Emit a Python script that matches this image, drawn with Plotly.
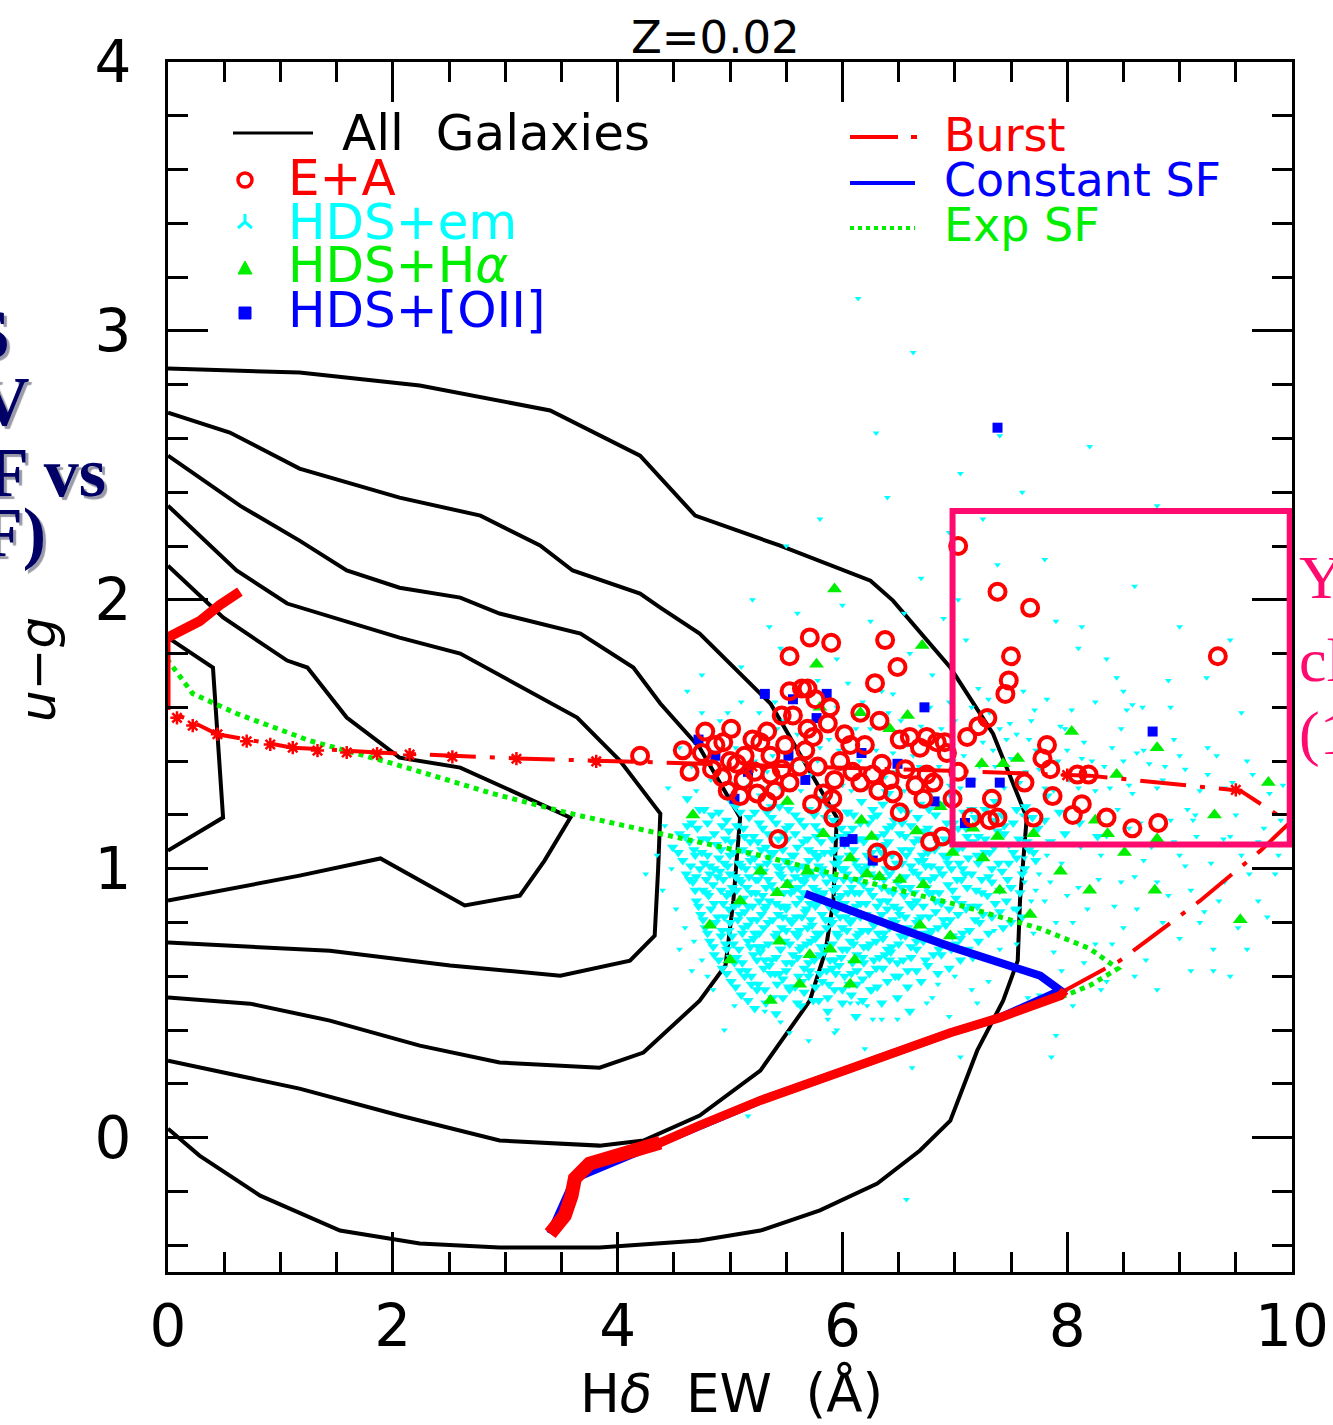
import plotly.graph_objects as go

# ---------------- figure geometry ----------------
W, H = 1333, 1425
ML, MR, MT, MB = 168, 41, 62, 153
PW, PH = W - ML - MR, H - MT - MB


def pxx(x):
    return (x - ML) / PW


def pxy(y):
    return (H - MB - y) / PH


RED = "#ff0000"
CYAN = "#00ffff"
GREEN = "#00ee00"
BLUE = "#0000ff"
PINK = "#ff0a6e"
NAVY = "#000066"
FONT = "DejaVu Sans"

# ---------------- axes ----------------
x_range = [0, 10]
y_range = [-0.5, 4]
x_ticks = [0, 2, 4, 6, 8, 10]
y_ticks = [0, 1, 2, 3, 4]

# ---------------- "All Galaxies" density contours ----------------
c1_hd = [0.00, 0.40, 0.49, 0.00]
c1_ug = [1.859, 1.748, 1.190, 1.067]

c2_hd = [0.00, 0.49, 1.06, 1.24, 1.59, 2.06, 2.60, 3.58, 3.35, 3.13, 2.64, 1.89, 1.17, 0.00]
c2_ug = [2.127, 1.934, 1.774, 1.748, 1.562, 1.413, 1.376, 1.190, 1.030, 0.900, 0.863, 1.038, 0.974, 0.881]

c3_hd = [0.00, 0.61, 1.06, 2.06, 2.60, 3.04, 3.64, 4.02, 4.38, 4.36, 4.33, 4.11, 3.49, 2.51, 1.44, 0.00]
c3_ug = [2.350, 2.109, 1.986, 1.859, 1.800, 1.700, 1.562, 1.402, 1.205, 0.993, 0.751, 0.658, 0.602, 0.640, 0.695, 0.725]

c4_hd = [0.00, 0.64, 1.17, 1.59, 2.06, 2.60, 2.95, 3.67, 4.14, 4.38, 4.73, 5.09, 5.03, 4.96, 4.73, 4.23, 3.84,
         2.95, 2.24, 1.44, 0.73, 0.00]
c4_ug = [2.536, 2.350, 2.220, 2.109, 2.045, 2.008, 1.949, 1.874, 1.748, 1.614, 1.450, 1.190, 0.881, 0.640, 0.509,
         0.316, 0.260, 0.279, 0.342, 0.435, 0.498, 0.521]

c5_hd = [0.00, 0.55, 1.17, 2.06, 2.78, 3.31, 3.60, 4.20, 4.38, 4.73, 5.36, 5.95, 5.92, 5.85, 5.71, 5.27, 4.73,
         4.23, 3.84, 2.95, 2.06, 1.17, 0.00]
c5_ug = [2.696, 2.622, 2.488, 2.380, 2.313, 2.202, 2.109, 2.023, 1.971, 1.874, 1.614, 1.190, 0.881, 0.695, 0.509,
         0.249, 0.082, -0.011, -0.030, -0.011, 0.082, 0.182, 0.286]

c6_hd = [0.00, 1.17, 2.24, 3.40, 4.20, 4.69, 5.44, 6.25, 6.45, 6.96, 7.34, 7.64, 7.58, 7.56, 7.43, 7.20, 6.96,
         6.69, 6.31, 5.80, 5.27, 4.73, 3.84, 2.95, 2.24, 1.53, 0.82, 0.28, 0.00]
c6_ug = [2.860, 2.845, 2.797, 2.704, 2.536, 2.313, 2.202, 2.071, 1.997, 1.748, 1.502, 1.190, 0.881, 0.658, 0.509,
         0.324, 0.063, -0.048, -0.171, -0.271, -0.346, -0.383, -0.409, -0.409, -0.394, -0.346, -0.216, -0.067, 0.033]

contours = [(c1_hd, c1_ug), (c2_hd, c2_ug), (c3_hd, c3_ug), (c4_hd, c4_ug), (c5_hd, c5_ug), (c6_hd, c6_ug)]

# ---------------- model tracks ----------------
burst_hd = [3.40, 3.53, 3.59, 3.62, 3.75, 4.02, 4.38, 4.73, 5.27, 6.07, 6.96, 7.40, 7.94, 7.98, 8.47, 9.18, 9.72,
            9.98, 9.54, 8.20, 6.87, 4.38, 3.10, 2.06, 1.11, 0.44, 0.00, 0.00, 0.11, 0.28, 0.46, 0.64]
burst_ug = [-0.357, -0.290, -0.216, -0.152, -0.097, -0.060, -0.019, 0.045, 0.138, 0.257, 0.390, 0.446, 0.528, 0.547,
            0.658, 0.880, 1.067, 1.171, 1.290, 1.346, 1.365, 1.395, 1.410, 1.428, 1.450, 1.500, 1.590, 1.860, 1.885,
            1.920, 1.980, 2.030]
burst_step_hd = [0.08, 0.22, 0.44, 0.70, 0.91, 1.11, 1.33, 1.59, 1.86, 2.15, 2.53, 3.10, 3.81, 5.20, 8.00, 9.50]
burst_step_ug = [1.561, 1.532, 1.500, 1.474, 1.462, 1.450, 1.439, 1.432, 1.428, 1.424, 1.416, 1.409, 1.399, 1.380,
                 1.348, 1.293]

const_hd = [3.40, 3.62, 4.38, 5.27, 6.07, 6.96, 7.40, 7.94, 7.76, 7.40, 6.96, 6.51, 6.07, 5.67]
const_ug = [-0.357, -0.152, -0.019, 0.138, 0.257, 0.390, 0.446, 0.547, 0.602, 0.650, 0.710, 0.777, 0.844, 0.907]

exp_hd = [3.40, 3.62, 4.38, 5.27, 6.07, 6.96, 7.40, 7.98, 8.20, 8.45, 8.20, 7.76, 7.05, 6.16, 5.27, 4.38, 3.58,
          2.89, 2.00, 1.26, 0.61, 0.22, 0.00]
exp_ug = [-0.357, -0.152, -0.019, 0.138, 0.257, 0.390, 0.446, 0.528, 0.565, 0.628, 0.703, 0.777, 0.863, 0.956,
          1.049, 1.130, 1.205, 1.279, 1.391, 1.476, 1.577, 1.651, 1.774]

# ---------------- galaxy samples ----------------
ea_points = [
    (7.03, 2.20), (7.38, 2.03), (7.67, 1.97), (7.50, 1.79), (7.48, 1.70), (7.45, 1.65), (7.29, 1.56), (7.21, 1.53),
    (7.11, 1.49), (6.91, 1.47), (6.93, 1.43), (7.82, 1.46), (7.78, 1.41), (7.85, 1.37), (8.09, 1.35), (8.19, 1.35),
    (7.62, 1.32), (7.87, 1.27), (8.13, 1.24), (8.05, 1.20), (8.35, 1.19), (8.58, 1.15), (8.81, 1.17), (7.33, 1.26),
    (7.15, 1.19), (7.31, 1.18), (7.38, 1.19), (7.70, 1.19), (7.03, 1.36), (6.89, 1.12), (9.34, 1.79), (5.71, 1.86),
    (5.90, 1.84), (6.38, 1.85), (5.53, 1.79), (6.49, 1.75), (6.29, 1.69), (5.53, 1.66), (5.64, 1.67), (5.69, 1.67),
    (5.46, 1.57), (5.56, 1.57), (5.01, 1.52), (4.58, 1.44), (4.75, 1.43), (4.94, 1.47), (5.20, 1.48), (5.27, 1.47),
    (5.69, 1.52), (5.74, 1.49), (5.87, 1.54), (6.02, 1.50), (6.07, 1.46), (6.60, 1.49), (6.75, 1.49), (6.69, 1.45),
    (6.84, 1.47), (4.93, 1.34), (5.06, 1.39), (5.12, 1.33), (5.24, 1.28), (5.33, 1.25), (5.36, 1.35), (5.46, 1.37),
    (5.53, 1.32), (5.62, 1.38), (5.73, 1.24), (5.83, 1.28), (5.91, 1.26), (5.92, 1.19), (5.93, 1.33), (6.09, 1.36),
    (6.16, 1.32), (6.27, 1.35), (6.35, 1.39), (6.42, 1.33), (6.45, 1.28), (6.51, 1.21), (6.72, 1.26), (6.75, 1.35),
    (6.81, 1.32), (6.98, 1.26), (5.43, 1.11), (6.31, 1.06), (6.45, 1.03), (6.78, 1.10), (4.20, 1.42), (4.78, 1.51),
    (4.87, 1.46), (5.00, 1.40), (5.13, 1.42), (4.84, 1.37), (4.98, 1.29), (5.36, 1.42), (5.49, 1.46), (5.22, 1.36),
    (5.09, 1.27), (5.33, 1.51), (5.40, 1.29), (4.64, 1.36), (5.67, 1.44), (5.78, 1.38), (5.98, 1.40), (6.20, 1.46),
    (6.32, 1.29), (6.56, 1.37), (6.65, 1.31), (5.89, 1.60), (5.76, 1.63), (6.16, 1.58), (6.33, 1.55), (6.51, 1.48),
]

ha_points = [
    (6.71, 1.83), (5.77, 1.76), (5.80, 1.60), (6.16, 1.58), (6.58, 1.57), (6.42, 1.52), (4.67, 1.20), (5.83, 1.13),
    (6.17, 1.18), (6.26, 1.12), (6.66, 1.14), (6.98, 1.06), (7.25, 1.04), (6.87, 1.23), (5.51, 1.25), (6.07, 1.04),
    (5.69, 0.99), (6.22, 0.98), (6.33, 0.97), (6.72, 0.94), (5.42, 0.91), (5.51, 0.94), (7.56, 1.41), (7.24, 1.39),
    (7.43, 1.39), (7.70, 1.13), (7.16, 1.15), (7.38, 1.12), (8.04, 1.51), (8.80, 1.45), (8.44, 1.35), (9.79, 1.32),
    (9.31, 1.20), (8.36, 1.13), (8.51, 1.06), (8.80, 1.11), (5.93, 2.04), (9.54, 0.81), (8.20, 0.92), (5.71, 0.68),
    (5.62, 0.57), (5.09, 0.88), (5.27, 0.99), (5.89, 0.70), (6.11, 0.66), (6.51, 0.96), (6.69, 0.79), (6.96, 0.75),
    (7.40, 0.92), (7.67, 0.83), (7.94, 0.99), (4.82, 0.79), (5.00, 0.66), (6.07, 0.57), (5.44, 0.73), (5.36, 0.51),
    (8.78, 0.92), (8.25, 1.18),
]

oii_points = [
    (7.38, 2.64), (8.76, 1.51), (5.31, 1.65), (5.86, 1.65), (6.73, 1.60), (4.72, 1.48), (4.87, 1.42), (5.56, 1.63),
    (5.77, 1.56), (5.04, 1.26), (6.49, 1.39), (6.17, 1.43), (6.82, 1.25), (7.09, 1.17), (7.14, 1.32), (7.40, 1.32),
    (6.27, 1.03), (6.09, 1.11), (5.52, 1.42), (5.16, 1.36), (5.67, 1.33), (6.02, 1.10),
]

# HDS+em galaxies: main clump
em_core_a = [
    (4.62, 1.26), (4.77, 1.22), (5.01, 1.25), (5.09, 1.21), (5.28, 1.27), (5.44, 1.23), (5.70, 1.22), (5.83, 1.26),
    (6.05, 1.21), (6.17, 1.25), (6.41, 1.28), (6.52, 1.22), (6.69, 1.24), (6.97, 1.27), (7.08, 1.21), (7.36, 1.25),
    (7.55, 1.22), (7.82, 1.27),
    (4.66, 1.17), (4.84, 1.20), (4.93, 1.16), (5.17, 1.19), (5.33, 1.21), (5.41, 1.17), (5.58, 1.20), (5.66, 1.16),
    (5.92, 1.18), (6.04, 1.21), (6.23, 1.17), (6.31, 1.20), (6.46, 1.18), (6.61, 1.16), (6.83, 1.20), (6.99, 1.17),
    (7.18, 1.19), (7.27, 1.22), (7.44, 1.16), (7.69, 1.19), (7.93, 1.21), (8.11, 1.17),
    (4.55, 1.13), (4.71, 1.15), (4.80, 1.11), (4.99, 1.14), (5.06, 1.16), (5.21, 1.12), (5.29, 1.15), (5.47, 1.13),
    (5.53, 1.16), (5.69, 1.11), (5.80, 1.14), (5.98, 1.12), (6.09, 1.15), (6.14, 1.11), (6.37, 1.13), (6.44, 1.16),
    (6.56, 1.12), (6.72, 1.14), (6.91, 1.11), (7.03, 1.15), (7.21, 1.12), (7.38, 1.14), (7.57, 1.11), (7.74, 1.15),
    (7.98, 1.13), (8.27, 1.12),
    (4.49, 1.08), (4.64, 1.10), (4.75, 1.06), (4.88, 1.09), (4.96, 1.11), (5.11, 1.07), (5.18, 1.10), (5.32, 1.08),
    (5.39, 1.06), (5.51, 1.11), (5.60, 1.08), (5.74, 1.06), (5.81, 1.10), (5.93, 1.07), (6.02, 1.09), (6.20, 1.11),
    (6.26, 1.06), (6.39, 1.09), (6.53, 1.07), (6.64, 1.10), (6.76, 1.06), (6.86, 1.09), (7.07, 1.08), (7.16, 1.10),
    (7.31, 1.06), (7.48, 1.09), (7.66, 1.07), (7.85, 1.10),
    (4.58, 1.03), (4.69, 1.05), (4.82, 1.01), (4.90, 1.04), (5.03, 1.06), (5.08, 1.02), (5.22, 1.04), (5.27, 1.01),
    (5.36, 1.06), (5.49, 1.03), (5.57, 1.05), (5.65, 1.01), (5.78, 1.04), (5.84, 1.06), (5.96, 1.02), (6.06, 1.05),
    (6.13, 1.01), (6.24, 1.04), (6.35, 1.06), (6.48, 1.02), (6.57, 1.05), (6.68, 1.03), (6.79, 1.01), (6.90, 1.05),
    (7.04, 1.02), (7.12, 1.04), (7.27, 1.06), (7.39, 1.02), (7.55, 1.04), (7.72, 1.03),
    (4.61, 0.98), (4.73, 1.00), (4.79, 0.96), (4.91, 0.99), (4.98, 1.01), (5.05, 0.97), (5.14, 1.00), (5.23, 0.96),
    (5.30, 0.99), (5.42, 1.01), (5.46, 0.97), (5.55, 1.00), (5.63, 0.96), (5.72, 0.99), (5.79, 1.01), (5.90, 0.97),
    (5.99, 1.00), (6.08, 0.96), (6.17, 0.99), (6.22, 1.01), (6.33, 0.97), (6.45, 1.00), (6.52, 0.96), (6.63, 0.99),
    (6.74, 1.01), (6.82, 0.97), (6.97, 1.00), (7.09, 0.98), (7.24, 0.96), (7.42, 0.99),
    (4.67, 0.95), (4.76, 0.92), (4.85, 0.94), (4.89, 0.97), (5.02, 0.93), (5.10, 0.95), (5.19, 0.91), (5.25, 0.96),
    (5.37, 0.94), (5.40, 0.92), (5.52, 0.95), (5.61, 0.93), (5.68, 0.97), (5.77, 0.92), (5.86, 0.95), (5.95, 0.93),
    (6.01, 0.96), (6.11, 0.91), (6.19, 0.94), (6.29, 0.97), (6.41, 0.92), (6.49, 0.95), (6.60, 0.93), (6.71, 0.96),
    (6.80, 0.91), (6.94, 0.94), (7.06, 0.96), (7.19, 0.92), (7.33, 0.95), (7.50, 0.93),
    (4.70, 0.88), (4.81, 0.90), (4.94, 0.87), (5.00, 0.91), (5.12, 0.89), (5.20, 0.86), (5.29, 0.90), (5.35, 0.88),
    (5.45, 0.86), (5.54, 0.91), (5.63, 0.89), (5.71, 0.87), (5.82, 0.90), (5.88, 0.86), (5.97, 0.89), (6.05, 0.91),
    (6.16, 0.87), (6.27, 0.90), (6.34, 0.88), (6.46, 0.86), (6.55, 0.90), (6.66, 0.88), (6.77, 0.91), (6.88, 0.87),
    (7.01, 0.89), (7.14, 0.86), (7.29, 0.90), (7.46, 0.88),
    (4.74, 0.83), (4.83, 0.85), (4.95, 0.82), (5.04, 0.86), (5.13, 0.84), (5.24, 0.81), (5.31, 0.85), (5.43, 0.83),
    (5.50, 0.86), (5.59, 0.82), (5.67, 0.84), (5.76, 0.86), (5.85, 0.81), (5.94, 0.84), (6.03, 0.82), (6.12, 0.86),
    (6.21, 0.83), (6.30, 0.81), (6.40, 0.85), (6.51, 0.83), (6.62, 0.86), (6.70, 0.82), (6.83, 0.84), (6.96, 0.81),
    (7.10, 0.85), (7.25, 0.83), (7.40, 0.84), (7.60, 0.82),
    (4.78, 0.78), (4.87, 0.80), (4.99, 0.77), (5.07, 0.81), (5.16, 0.79), (5.26, 0.76), (5.34, 0.80), (5.46, 0.78),
    (5.53, 0.81), (5.62, 0.77), (5.73, 0.79), (5.80, 0.76), (5.91, 0.80), (6.00, 0.78), (6.09, 0.81), (6.18, 0.77),
    (6.28, 0.79), (6.37, 0.76), (6.47, 0.80), (6.58, 0.78), (6.68, 0.81), (6.79, 0.77), (6.92, 0.79), (7.07, 0.76),
    (7.22, 0.80), (7.43, 0.78),
    (4.82, 0.73), (4.92, 0.75), (5.03, 0.72), (5.11, 0.76), (5.21, 0.74), (5.29, 0.71), (5.40, 0.75), (5.49, 0.73),
    (5.58, 0.76), (5.68, 0.72), (5.76, 0.74), (5.87, 0.71), (5.96, 0.75), (6.07, 0.73), (6.15, 0.76), (6.25, 0.72),
    (6.36, 0.74), (6.44, 0.71), (6.56, 0.75), (6.66, 0.73), (6.78, 0.76), (6.90, 0.72), (7.05, 0.74), (7.21, 0.73),
    (4.86, 0.68), (4.97, 0.70), (5.06, 0.67), (5.18, 0.71), (5.27, 0.69), (5.37, 0.66), (5.45, 0.70), (5.56, 0.68),
    (5.64, 0.71), (5.74, 0.67), (5.84, 0.69), (5.93, 0.66), (6.04, 0.70), (6.13, 0.68), (6.23, 0.71), (6.33, 0.67),
    (6.43, 0.69), (6.54, 0.66), (6.66, 0.70), (6.81, 0.68), (6.97, 0.70), (7.16, 0.67),
    (4.93, 0.63), (5.04, 0.65), (5.15, 0.62), (5.24, 0.66), (5.35, 0.64), (5.44, 0.61), (5.55, 0.65), (5.66, 0.63),
    (5.75, 0.66), (5.86, 0.62), (5.97, 0.64), (6.08, 0.61), (6.19, 0.65), (6.30, 0.63), (6.42, 0.66), (6.58, 0.62),
    (6.76, 0.64), (6.95, 0.63),
    (5.01, 0.58), (5.13, 0.60), (5.25, 0.57), (5.36, 0.61), (5.47, 0.59), (5.58, 0.56), (5.70, 0.60), (5.82, 0.58),
    (5.94, 0.61), (6.06, 0.57), (6.18, 0.59), (6.31, 0.56), (6.47, 0.60), (6.70, 0.58),
    (5.10, 0.53), (5.24, 0.55), (5.38, 0.52), (5.52, 0.56), (5.66, 0.54), (5.79, 0.51), (5.93, 0.55), (6.08, 0.53),
    (6.25, 0.55), (6.49, 0.52),
    (5.22, 0.48), (5.41, 0.46), (5.63, 0.49), (5.87, 0.47), (6.12, 0.45), (6.60, 0.47),
]

# HDS+em galaxies: filling between the rows of the clump
em_core_b = [
    (4.73, 1.22), (4.90, 1.21), (5.05, 1.23), (5.22, 1.21), (5.37, 1.23), (5.52, 1.22), (5.75, 1.20), (5.88, 1.23),
    (6.10, 1.20), (6.27, 1.22), (6.36, 1.24), (6.58, 1.21), (6.77, 1.22), (6.90, 1.24), (7.15, 1.22), (7.42, 1.20),
    (7.63, 1.23),
    (4.62, 1.16), (4.80, 1.17), (4.97, 1.18), (5.12, 1.15), (5.26, 1.17), (5.37, 1.19), (5.50, 1.15), (5.62, 1.18),
    (5.76, 1.16), (5.85, 1.19), (5.99, 1.15), (6.16, 1.17), (6.27, 1.19), (6.40, 1.15), (6.53, 1.17), (6.67, 1.19),
    (6.76, 1.15), (6.93, 1.17), (7.10, 1.15), (7.34, 1.18), (7.52, 1.17), (7.80, 1.18),
    (4.60, 1.12), (4.75, 1.11), (4.86, 1.13), (5.01, 1.10), (5.13, 1.12), (5.25, 1.10), (5.34, 1.13), (5.43, 1.11),
    (5.58, 1.13), (5.65, 1.10), (5.77, 1.12), (5.91, 1.11), (6.04, 1.13), (6.19, 1.10), (6.31, 1.12), (6.41, 1.10),
    (6.51, 1.13), (6.68, 1.11), (6.81, 1.13), (6.96, 1.10), (7.11, 1.12), (7.27, 1.11), (7.44, 1.13), (7.64, 1.10),
    (4.54, 1.06), (4.68, 1.07), (4.80, 1.05), (4.92, 1.07), (5.00, 1.05), (5.16, 1.06), (5.28, 1.07), (5.35, 1.04),
    (5.47, 1.07), (5.55, 1.05), (5.70, 1.07), (5.78, 1.05), (5.90, 1.06), (5.97, 1.04), (6.10, 1.07), (6.22, 1.05),
    (6.32, 1.08), (6.44, 1.05), (6.60, 1.07), (6.71, 1.05), (6.82, 1.07), (6.93, 1.04), (7.02, 1.07), (7.20, 1.05),
    (7.35, 1.08), (7.52, 1.06), (7.70, 1.06),
    (4.65, 1.01), (4.77, 1.02), (4.86, 1.00), (4.95, 1.02), (5.10, 1.01), (5.18, 1.03), (5.25, 1.00), (5.33, 1.02),
    (5.45, 1.00), (5.52, 1.02), (5.60, 1.00), (5.70, 1.03), (5.82, 1.00), (5.93, 1.02), (6.02, 1.00), (6.11, 1.03),
    (6.19, 1.00), (6.28, 1.02), (6.39, 1.00), (6.53, 1.02), (6.61, 1.01), (6.72, 1.03), (6.86, 1.00), (6.94, 1.02),
    (7.07, 1.00), (7.21, 1.02), (7.33, 1.00), (7.48, 1.02), (7.62, 1.00),
    (4.64, 0.96), (4.70, 0.97), (4.82, 0.98), (4.94, 0.96), (5.00, 0.98), (5.08, 0.96), (5.17, 0.97), (5.28, 0.98),
    (5.34, 0.96), (5.44, 0.98), (5.58, 0.97), (5.66, 0.95), (5.75, 0.97), (5.83, 0.98), (5.93, 0.96), (6.04, 0.98),
    (6.14, 0.96), (6.25, 0.98), (6.37, 0.96), (6.42, 0.98), (6.56, 0.97), (6.67, 0.98), (6.78, 0.96), (6.89, 0.98),
    (7.02, 0.96), (7.15, 0.98), (7.30, 0.97), (7.47, 0.96), (7.60, 0.98),
    (4.69, 0.92), (4.79, 0.91), (4.92, 0.92), (4.97, 0.90), (5.06, 0.92), (5.15, 0.93), (5.23, 0.91), (5.32, 0.93),
    (5.48, 0.91), (5.57, 0.92), (5.65, 0.91), (5.74, 0.93), (5.83, 0.91), (5.92, 0.92), (5.99, 0.90), (6.08, 0.93),
    (6.15, 0.91), (6.24, 0.92), (6.35, 0.93), (6.45, 0.91), (6.53, 0.93), (6.64, 0.91), (6.75, 0.93), (6.86, 0.91),
    (6.98, 0.92), (7.11, 0.93), (7.24, 0.91), (7.40, 0.92), (7.58, 0.91),
    (4.72, 0.86), (4.86, 0.87), (4.99, 0.85), (5.08, 0.87), (5.16, 0.86), (5.26, 0.88), (5.32, 0.86), (5.41, 0.87),
    (5.50, 0.85), (5.59, 0.87), (5.68, 0.85), (5.78, 0.87), (5.86, 0.88), (5.93, 0.86), (6.02, 0.87), (6.10, 0.85),
    (6.21, 0.87), (6.31, 0.86), (6.40, 0.88), (6.50, 0.85), (6.60, 0.87), (6.72, 0.86), (6.83, 0.88), (6.95, 0.85),
    (7.06, 0.87), (7.20, 0.86), (7.36, 0.87), (7.55, 0.85),
    (4.76, 0.81), (4.89, 0.82), (5.00, 0.80), (5.09, 0.83), (5.19, 0.81), (5.28, 0.83), (5.38, 0.81), (5.47, 0.82),
    (5.55, 0.80), (5.64, 0.82), (5.72, 0.81), (5.82, 0.83), (5.89, 0.81), (5.98, 0.82), (6.07, 0.80), (6.16, 0.82),
    (6.25, 0.81), (6.35, 0.83), (6.45, 0.81), (6.56, 0.82), (6.66, 0.80), (6.77, 0.82), (6.90, 0.81), (7.03, 0.83),
    (7.18, 0.81), (7.33, 0.82), (7.50, 0.80),
    (4.80, 0.76), (4.93, 0.77), (5.02, 0.75), (5.12, 0.78), (5.22, 0.76), (5.30, 0.78), (5.42, 0.76), (5.50, 0.77),
    (5.60, 0.75), (5.69, 0.78), (5.77, 0.76), (5.86, 0.78), (5.95, 0.76), (6.04, 0.77), (6.13, 0.75), (6.23, 0.77),
    (6.32, 0.76), (6.42, 0.78), (6.52, 0.75), (6.62, 0.77), (6.73, 0.76), (6.85, 0.78), (6.98, 0.75), (7.13, 0.77),
    (7.30, 0.76),
    (4.85, 0.71), (4.96, 0.72), (5.08, 0.70), (5.16, 0.73), (5.25, 0.71), (5.34, 0.72), (5.45, 0.70), (5.53, 0.72),
    (5.62, 0.70), (5.72, 0.73), (5.81, 0.71), (5.91, 0.72), (6.00, 0.70), (6.10, 0.72), (6.19, 0.71), (6.30, 0.73),
    (6.40, 0.70), (6.50, 0.72), (6.61, 0.71), (6.72, 0.73), (6.86, 0.70), (7.01, 0.72), (7.12, 0.70),
    (4.90, 0.66), (5.01, 0.67), (5.11, 0.65), (5.21, 0.68), (5.31, 0.66), (5.41, 0.67), (5.50, 0.65), (5.60, 0.67),
    (5.70, 0.65), (5.80, 0.68), (5.89, 0.66), (5.99, 0.67), (6.09, 0.65), (6.18, 0.67), (6.28, 0.66), (6.38, 0.68),
    (6.49, 0.65), (6.61, 0.67), (6.74, 0.66), (6.88, 0.68), (7.05, 0.66),
    (4.97, 0.61), (5.09, 0.62), (5.19, 0.60), (5.30, 0.63), (5.40, 0.61), (5.50, 0.62), (5.61, 0.60), (5.71, 0.62),
    (5.80, 0.61), (5.91, 0.63), (6.02, 0.60), (6.13, 0.62), (6.24, 0.61), (6.36, 0.63), (6.50, 0.60), (6.66, 0.62),
    (6.85, 0.61),
    (5.05, 0.56), (5.19, 0.57), (5.31, 0.55), (5.42, 0.57), (5.53, 0.55), (5.64, 0.58), (5.76, 0.56), (5.88, 0.57),
    (6.00, 0.55), (6.13, 0.57), (6.26, 0.55), (6.40, 0.58), (6.58, 0.56),
    (5.16, 0.51), (5.32, 0.50), (5.47, 0.52), (5.60, 0.50), (5.74, 0.51), (5.87, 0.52), (6.00, 0.50), (6.18, 0.51),
    (6.35, 0.50),
]

# HDS+em galaxies: band shared with the E+A galaxies
em_band = [
    (4.45, 1.30), (4.66, 1.38), (4.83, 1.33), (4.91, 1.55), (5.05, 1.45), (5.17, 1.31), (5.26, 1.58), (5.38, 1.42),
    (5.45, 1.30), (5.60, 1.50), (5.72, 1.35), (5.80, 1.45), (5.95, 1.60), (6.03, 1.38), (6.12, 1.52), (6.22, 1.30),
    (6.30, 1.44), (6.41, 1.58), (6.47, 1.36), (6.55, 1.29), (6.63, 1.42), (6.70, 1.53), (6.86, 1.38), (6.95, 1.31),
    (7.00, 1.55), (7.08, 1.42), (7.17, 1.33), (7.25, 1.47), (7.36, 1.38), (7.44, 1.30), (7.55, 1.50), (7.63, 1.36),
    (7.72, 1.44), (7.80, 1.30), (7.92, 1.40), (8.02, 1.33), (8.15, 1.47), (8.25, 1.29), (8.33, 1.38), (8.48, 1.52),
    (8.55, 1.31), (8.68, 1.44), (8.80, 1.30), (8.95, 1.48), (9.05, 1.37), (9.18, 1.29), (9.33, 1.42), (9.47, 1.32),
    (9.60, 1.40), (9.80, 1.28), (4.55, 1.45), (4.75, 1.58), (5.10, 1.62), (5.48, 1.55), (5.88, 1.48), (6.18, 1.62),
    (6.58, 1.46), (6.78, 1.60), (7.31, 1.58), (7.68, 1.55), (8.25, 1.62), (8.92, 1.60), (9.55, 1.58), (5.33, 1.36),
    (5.66, 1.40), (6.00, 1.31), (6.38, 1.34), (6.92, 1.46), (7.50, 1.41), (7.98, 1.52),
    (8.40, 1.45), (8.62, 1.43), (8.73, 1.39), (8.87, 1.38), (8.13, 1.41), (9.25, 1.35), (9.07, 1.22), (9.14, 1.20),
    (9.12, 1.18), (9.39, 1.11), (9.92, 1.31), (7.34, 1.44), (7.46, 1.48), (7.94, 1.53), (7.49, 1.54), (7.71, 1.59),
    (8.04, 1.59), (8.53, 1.59),
    (4.70, 1.29), (4.88, 1.41), (5.00, 1.32), (5.15, 1.50), (5.22, 1.40), (5.31, 1.30), (5.42, 1.52), (5.55, 1.38),
    (5.63, 1.29), (5.70, 1.55), (5.78, 1.40), (5.85, 1.31), (5.97, 1.44), (6.08, 1.29), (6.15, 1.40), (6.25, 1.52),
    (6.37, 1.29), (6.45, 1.43), (6.52, 1.55), (6.60, 1.33), (6.68, 1.38), (6.80, 1.29), (6.88, 1.52), (6.99, 1.40),
    (7.05, 1.30), (7.13, 1.52), (7.22, 1.38), (7.30, 1.29), (7.40, 1.52), (7.58, 1.32), (7.66, 1.48), (7.75, 1.37),
    (7.88, 1.29), (8.00, 1.44), (8.10, 1.30), (8.22, 1.40), (8.38, 1.30), (8.50, 1.40), (8.58, 1.28), (8.85, 1.33),
    (9.00, 1.42), (9.25, 1.45), (9.40, 1.30), (9.65, 1.35), (4.98, 1.58), (5.40, 1.62), (5.85, 1.65), (6.45, 1.65),
    (6.95, 1.62), (7.15, 1.60),
]

# HDS+em galaxies: sparse outskirts
em_outer = [
    (6.14, 3.12), (6.63, 2.92), (7.40, 2.61), (8.20, 2.57), (7.05, 2.47), (7.80, 2.15), (7.38, 2.13), (7.03, 2.00),
    (8.13, 1.90), (8.10, 1.82), (8.44, 1.71), (8.50, 1.66), (8.58, 1.61), (8.67, 1.60), (9.24, 1.71), (7.82, 1.63),
    (7.61, 1.66), (7.21, 1.67), (7.30, 1.63), (5.20, 2.00), (5.60, 1.95), (6.00, 1.98), (6.90, 1.93), (5.35, 1.90),
    (6.25, 1.92), (5.95, 1.78), (6.60, 1.80), (4.75, 1.72), (5.10, 1.75), (6.35, 1.66), (6.80, 1.72), (4.62, 1.66),
    (6.05, 1.69), (7.10, 1.85), (6.95, 2.25), (5.80, 2.30), (6.40, 2.38), (7.60, 2.40), (8.60, 2.05), (9.00, 1.90),
    (8.90, 1.70), (6.30, 2.62), (5.50, 2.20), (7.90, 1.92), (8.35, 1.78), (6.70, 2.08), (5.45, 1.82), (5.78, 1.70),
    (6.55, 1.95), (7.25, 2.30), (8.80, 2.35), (9.45, 1.85),
    (7.62, 0.95), (7.80, 0.88), (7.95, 1.02), (8.10, 0.93), (8.30, 1.05), (8.42, 0.86), (8.60, 0.97), (8.75, 1.08),
    (8.90, 0.90), (9.05, 1.01), (9.22, 0.84), (9.40, 0.95), (9.55, 1.05), (9.70, 0.88), (9.85, 0.98), (7.70, 0.76),
    (7.88, 0.69), (8.05, 0.80), (8.25, 0.72), (8.50, 0.78), (8.70, 0.66), (9.00, 0.74), (9.30, 0.70), (7.58, 0.62),
    (7.40, 0.70), (7.65, 0.52), (9.50, 1.20), (9.75, 1.15), (8.45, 1.22), (8.65, 1.17), (8.95, 1.10), (9.15, 1.12),
    (9.88, 1.05), (7.52, 0.85), (7.35, 0.77), (7.30, 0.58), (7.15, 0.55), (6.85, 0.57), (6.75, 0.50), (7.00, 0.60),
    (7.60, 1.20), (7.75, 0.98), (7.82, 1.05), (7.90, 0.80), (8.00, 0.90), (8.12, 1.08), (8.18, 0.85), (8.28, 0.96),
    (8.35, 1.12), (8.40, 0.72), (8.48, 0.95), (8.55, 1.15), (8.62, 0.85), (8.68, 1.03), (8.80, 0.95), (8.85, 0.80),
    (8.92, 1.18), (9.00, 1.05), (9.10, 0.92), (9.18, 0.80), (9.28, 1.02), (9.35, 0.88), (9.45, 1.12), (9.52, 0.78),
    (9.62, 0.98), (9.70, 1.10), (9.78, 0.82), (9.90, 1.18), (7.68, 0.88), (7.78, 0.60), (7.95, 0.62), (8.15, 0.65),
    (8.35, 0.58), (8.80, 0.55), (9.10, 0.62), (9.45, 0.60), (7.55, 0.72), (7.62, 1.04), (7.72, 0.92), (7.85, 0.95),
    (5.45, 0.43), (5.95, 0.40), (6.35, 0.44), (6.80, 0.52), (6.95, 0.45), (7.20, 0.50), (7.50, 0.47), (7.75, 0.53),
    (8.05, 0.49), (8.30, 0.55), (8.60, 0.60), (6.57, -0.23), (7.05, 0.30), (6.20, 0.33), (5.70, 0.36), (9.60, 0.70),
    (9.30, 0.62), (7.90, 0.38), (6.62, 0.26), (4.95, 0.40), (5.04, 0.49), (5.31, 0.47), (5.87, 0.44), (5.93, 0.39),
    (5.53, 0.39), (6.27, 0.44), (6.49, 0.44), (5.16, 0.08), (7.86, 0.30), (6.07, 0.50), (6.14, 0.50), (6.22, 0.49),
    (4.40, 0.92), (4.48, 1.00), (4.52, 0.85), (4.60, 0.78), (4.68, 0.73), (4.35, 1.05), (4.42, 1.16), (4.55, 0.70),
    (4.66, 0.62), (4.25, 0.98), (4.75, 0.66), (4.80, 0.60), (4.85, 0.55),
]

em_core = em_core_a + em_core_b
em_sparse = em_band + em_outer
core_hd = [p[0] for p in em_core]
core_ug = [p[1] for p in em_core]
sparse_hd = [p[0] for p in em_sparse]
sparse_ug = [p[1] for p in em_sparse]
ea_hd = [p[0] for p in ea_points]
ea_ug = [p[1] for p in ea_points]
ha_hd = [p[0] for p in ha_points]
ha_ug = [p[1] for p in ha_points]
oii_hd = [p[0] for p in oii_points]
oii_ug = [p[1] for p in oii_points]

# highlighted region of young, red galaxies
box_hd = [6.98, 9.98]
box_ug = [1.09, 2.33]

fig = go.Figure()

# density contours of the full sample
for chd, cug in contours:
    fig.add_trace(go.Scatter(x=chd, y=cug, mode="lines", line=dict(color="black", width=4),
                             hoverinfo="skip", showlegend=False))

fig.add_trace(go.Scatter(x=sparse_hd, y=sparse_ug, mode="markers",
                         marker=dict(symbol="triangle-down", size=6, color=CYAN, line=dict(width=0)),
                         name="HDS+em", showlegend=False))
fig.add_trace(go.Scatter(x=core_hd, y=core_ug, mode="markers",
                         marker=dict(symbol="triangle-down", size=10, color=CYAN, line=dict(width=0)),
                         name="HDS+em", showlegend=False))

# model tracks
fig.add_trace(go.Scatter(x=exp_hd, y=exp_ug, mode="lines", line=dict(color=GREEN, width=5, dash="dot"),
                         name="Exp SF", showlegend=False))
fig.add_trace(go.Scatter(x=const_hd, y=const_ug, mode="lines", line=dict(color=BLUE, width=8),
                         name="Constant SF", showlegend=False))

fig.add_trace(go.Scatter(x=ha_hd, y=ha_ug, mode="markers",
                         marker=dict(symbol="triangle-up", size=13, color=GREEN, line=dict(width=0)),
                         name="HDS+Ha", showlegend=False))
fig.add_trace(go.Scatter(x=oii_hd, y=oii_ug, mode="markers",
                         marker=dict(symbol="square", size=10, color=BLUE, line=dict(width=0)),
                         name="HDS+[OII]", showlegend=False))

fig.add_trace(go.Scatter(x=burst_hd[13:27], y=burst_ug[13:27], mode="lines",
                         line=dict(color=RED, width=4, dash="46px,14px,5px,14px"),
                         name="Burst", showlegend=False))
fig.add_trace(go.Scatter(x=burst_step_hd, y=burst_step_ug, mode="markers",
                         marker=dict(symbol="asterisk-open", size=11, color=RED, line=dict(width=2.5, color=RED)),
                         showlegend=False, hoverinfo="skip"))
fig.add_trace(go.Scatter(x=burst_hd[26:28], y=burst_ug[26:28], mode="lines", line=dict(color=RED, width=5),
                         showlegend=False, hoverinfo="skip"))
fig.add_trace(go.Scatter(x=burst_hd[:14], y=burst_ug[:14], mode="lines", line=dict(color=RED, width=9),
                         showlegend=False, hoverinfo="skip"))
fig.add_trace(go.Scatter(x=burst_hd[:7], y=burst_ug[:7], mode="lines", line=dict(color=RED, width=14),
                         showlegend=False, hoverinfo="skip"))
fig.add_trace(go.Scatter(x=burst_hd[27:], y=burst_ug[27:], mode="lines", line=dict(color=RED, width=10),
                         showlegend=False, hoverinfo="skip"))

fig.add_trace(go.Scatter(x=ea_hd, y=ea_ug, mode="markers",
                         marker=dict(symbol="circle-open", size=16, color=RED, line=dict(width=4, color=RED)),
                         name="E+A", showlegend=False))

shapes = []
annotations = []

# highlight box
shapes.append(dict(type="rect", xref="x", yref="y", x0=box_hd[0], x1=box_hd[1], y0=box_ug[0], y1=box_ug[1],
                   line=dict(color=PINK, width=6), layer="above"))


def text(s, x, y, size, color, xanchor="left", family=FONT, angle=0, **font_extra):
    annotations.append(dict(text=s, x=pxx(x), y=pxy(y), xref="paper", yref="paper", showarrow=False,
                            xanchor=xanchor, yanchor="middle", textangle=angle,
                            font=dict(family=family, size=size, color=color, **font_extra)))


def pix_shape(kind, x, y, color, fill=None, width=3.0, **geom):
    d = dict(type=kind, xref="paper", yref="paper", xsizemode="pixel", ysizemode="pixel",
             xanchor=pxx(x), yanchor=pxy(y), line=dict(color=color, width=width), layer="above")
    if fill:
        d["fillcolor"] = fill
    d.update(geom)
    shapes.append(d)


def pline(x0, x1, y, color, width=3, dash="solid"):
    shapes.append(dict(type="line", xref="paper", yref="paper", x0=pxx(x0), x1=pxx(x1), y0=pxy(y), y1=pxy(y),
                       line=dict(color=color, width=width, dash=dash), layer="above"))


# left legend
pline(233, 313, 133, "black", 3)
text("All\u00a0\u00a0Galaxies", 340, 133, 50, "black")
pix_shape("circle", 245, 180, RED, width=3.5, x0=-7, x1=7, y0=-7, y1=7)
text("E+A", 286, 178, 50, RED)
pix_shape("path", 245, 223, CYAN, width=3, path="M0,1 L0,9 M0,1 L-7,-5 M0,1 L7,-5")
text("HDS+em", 286, 222, 50, CYAN)
pix_shape("path", 245, 268, GREEN, fill=GREEN, width=1, path="M-7,-6 L7,-6 L0,7 Z")
text("HDS+H<i>α</i>", 286, 265, 50, GREEN)
pix_shape("rect", 245, 313, BLUE, fill=BLUE, width=1, x0=-6, x1=6, y0=-6, y1=6)
text("HDS+[OII]", 286, 310, 50, BLUE)

# right legend
pline(850, 898, 137, RED, 4)
pline(911, 917, 137, RED, 4)
text("Burst", 942, 135, 46, RED)
pline(850, 915, 183, BLUE, 4)
text("Constant\u00a0SF", 942, 180, 46, BLUE)
pline(850, 915, 228, GREEN, 4, "dot")
text("Exp\u00a0SF", 942, 225, 46, GREEN)

# title and axis titles
text("Z=0.02", 715, 38, 45, "black", xanchor="center")
text("H<i>δ</i>\u00a0\u00a0EW\u00a0\u00a0(Å)", 731, 1392, 53, "black", xanchor="center")
text("<i>u−g</i>", 38, 670, 50, "black", xanchor="center", angle=-90)

# slide text around the plot
for s, x, y in [("S", 12, 335), ("V", 32, 402), ("F vs", 108, 473), ("F)", 48, 532)]:
    text(s, x, y, 70, NAVY, xanchor="right", family="Liberation Serif", weight="bold",
         shadow="3px 3px 1px #9a9aa8")
for s, y in [("Y", 577), ("cl", 660), ("(1", 733)]:
    text(s, 1297, y, 62, PINK, family="Liberation Serif")

axis_common = dict(ticks="inside", ticklen=40, tickwidth=3, tickcolor="black", showline=True, linewidth=3,
                   linecolor="black", mirror="allticks", showgrid=False, zeroline=False, automargin=False,
                   tickfont=dict(family=FONT, size=58, color="black"))

fig.update_layout(
    width=W, height=H, margin=dict(l=ML, r=MR, t=MT, b=MB, pad=0, autoexpand=False),
    paper_bgcolor="white", plot_bgcolor="white", showlegend=False,
    xaxis=dict(range=x_range, tickmode="array", tickvals=x_ticks, ticktext=[str(v) for v in x_ticks],
               minor=dict(dtick=0.5, tick0=0, ticks="inside", ticklen=20, tickwidth=3, tickcolor="black",
                          showgrid=False),
               ticklabelstandoff=1, **axis_common),
    yaxis=dict(range=y_range, tickmode="array", tickvals=y_ticks, ticktext=[str(v) for v in y_ticks],
               minor=dict(dtick=0.2, tick0=0, ticks="inside", ticklen=20, tickwidth=3, tickcolor="black",
                          showgrid=False),
               ticklabelstandoff=22, **axis_common),
    shapes=shapes, annotations=annotations,
)

fig.write_html("out.html")
